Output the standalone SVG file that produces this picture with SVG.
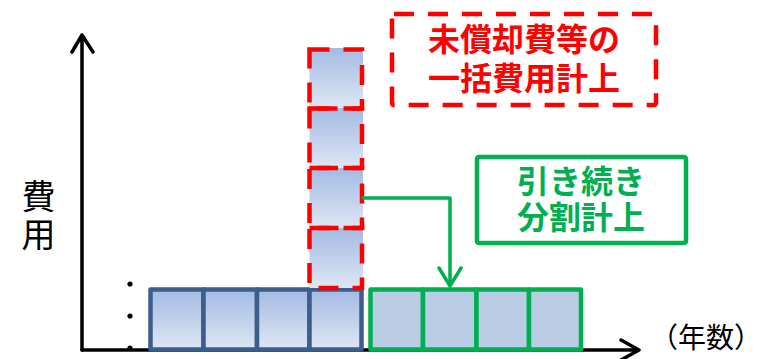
<svg xmlns="http://www.w3.org/2000/svg" width="758" height="359" viewBox="0 0 758 359">
<style>
.ax{stroke:#000;stroke-width:3.5;fill:none;stroke-linecap:round;stroke-linejoin:round}
.blue{fill:url(#gb);stroke:#3B5E8C;stroke-width:4.5;stroke-linejoin:round}
.green{fill:#B9CDE5;stroke:#00B050;stroke-width:4.5;stroke-linejoin:round}
.rdash{fill:none;stroke:#FF0000;stroke-width:4.5;stroke-dasharray:20 14}
.gfill{fill:url(#gb)}
.lbl{font-family:"Noto Sans CJK JP","Noto Sans",sans-serif;text-anchor:middle;dominant-baseline:central}
.red{fill:#FF0000;font-size:32px;font-weight:700}
.grn{fill:#00B050;font-size:32px;font-weight:700}
.blk{fill:#000;font-size:34px}
.conn{stroke:#00B050;stroke-width:3.5;fill:none;stroke-linejoin:round;stroke-linecap:round}
</style>
<defs>
<linearGradient id="gb" x1="0" y1="0" x2="0" y2="1">
<stop offset="0" stop-color="#A3BBE3"/>
<stop offset="1" stop-color="#DEE6F3"/>
</linearGradient>
</defs>
<g id="axes">
<path class="ax" d="M82 350 V35 M72 52 L82 35 L93 52"/>
<path class="ax" d="M82 350 H639 M621 340 L639 350 L621 360"/>
</g>
<g id="ylabel">
<text class="lbl blk" x="38.5" y="194">費</text>
<text class="lbl blk" x="38.5" y="232">用</text>
</g>
<g id="xlabel">
<text class="lbl blk" x="706" y="336" style="font-size:28px">（年数）</text>
</g>
<g id="dots" fill="#000">
<circle cx="130" cy="284" r="2.6"/>
<circle cx="130" cy="316" r="2.6"/>
<circle cx="130" cy="348" r="2.6"/>
</g>
<g id="blue-row">
<rect class="blue" x="150.5" y="289.5" width="53" height="60"/>
<rect class="blue" x="203.5" y="289.5" width="53.5" height="60"/>
<rect class="blue" x="257" y="289.5" width="52.5" height="60"/>
<rect class="blue" x="309.5" y="289.5" width="52" height="60"/>
</g>
<g id="green-row">
<rect class="green" x="370.5" y="289.5" width="52.5" height="60"/>
<rect class="green" x="423" y="289.5" width="53.5" height="60"/>
<rect class="green" x="476.5" y="289.5" width="52.5" height="60"/>
<rect class="green" x="529" y="289.5" width="52" height="60"/>
</g>
<g id="red-stack">
<rect class="gfill" x="309.5" y="48" width="53.5" height="60"/>
<rect class="gfill" x="309.5" y="108" width="53.5" height="60"/>
<rect class="gfill" x="309.5" y="168" width="53.5" height="60"/>
<rect class="gfill" x="309.5" y="228" width="53.5" height="60"/>
<rect class="rdash" x="309.5" y="49.5" width="52.5" height="59"/>
<rect class="rdash" x="309.5" y="108.5" width="52.5" height="59.5"/>
<rect class="rdash" x="309.5" y="168" width="52.5" height="60"/>
<rect class="rdash" x="309.5" y="228" width="52.5" height="60"/>
</g>
<g id="connectors">
<path class="conn" d="M363 198 H450 V286 M439 268 L450 286 L461 268"/>
</g>
<g id="red-label">
<rect class="rdash" x="392" y="14" width="264" height="91" rx="2"/>
<text class="lbl red" x="524" y="37">未償却費等の</text>
<text class="lbl red" x="524" y="76">一括費用計上</text>
</g>
<g id="green-label">
<rect x="477" y="157" width="209" height="86" rx="2" fill="#fff" stroke="#00B050" stroke-width="4.5"/>
<text class="lbl grn" x="581" y="178.5">引き続き</text>
<text class="lbl grn" x="581" y="215">分割計上</text>
</g>
</svg>
